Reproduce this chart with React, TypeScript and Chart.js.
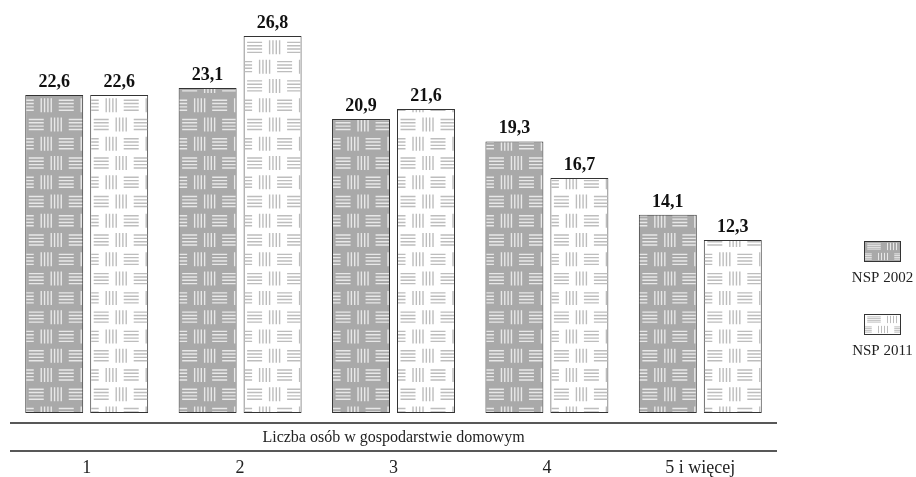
import React, { useEffect, useRef } from "react";
import { Chart, registerables } from "chart.js";

Chart.register(...registerables);

const categories = ["1", "2", "3", "4", "5 i więcej"];
const seriesNames = ["NSP 2002", "NSP 2011"];
const nsp2002 = [22.6, 23.1, 20.9, 19.3, 14.1];
const nsp2011 = [22.6, 26.8, 21.6, 16.7, 12.3];
const axisTitle = "Liczba osób w gospodarstwie domowym";

const SERIF = "'Liberation Serif', 'DejaVu Serif', serif";
const looks = [
  { bg: "#a9a9a9", line: "#e8e8e8" },
  { bg: "#ffffff", line: "#bdbdbd" },
];

function drawBasket(
  ctx: CanvasRenderingContext2D,
  left: number,
  top: number,
  right: number,
  bottom: number,
  anchorY: number,
  lineColor: string,
  sx: number,
  sy: number,
  lw: number
) {
  const P = 19.27 * sy;
  const W = 40 * sx;
  const offs = [-5, -5 / 3, 5 / 3, 5];
  ctx.save();
  ctx.beginPath();
  ctx.rect(left, top, right - left, bottom - top);
  ctx.clip();
  ctx.strokeStyle = lineColor;
  ctx.lineWidth = lw;
  ctx.beginPath();
  for (let k = 0; k < 200; k++) {
    const cy = anchorY - k * P;
    if (cy < top - P) break;
    const typeA = k % 2 === 0;
    const hOff = typeA ? 0 : 10 * sx;
    const vOff = typeA ? 20 * sx : 30 * sx;
    for (let m = -1; left + m * W - 10 * sx < right; m++) {
      const hx = left + hOff + m * W;
      for (const d of offs) {
        ctx.moveTo(hx - 7.5 * sx, cy + d * sy);
        ctx.lineTo(hx + 7.5 * sx, cy + d * sy);
      }
      const vx = left + vOff + m * W;
      for (const d of offs) {
        ctx.moveTo(vx + d * sx, cy - 7 * sy);
        ctx.lineTo(vx + d * sx, cy + 7 * sy);
      }
    }
  }
  ctx.stroke();
  ctx.restore();
}

const patternPlugin = {
  id: "basketPattern",
  afterDatasetDraw(chart: any, args: any) {
    const ctx: CanvasRenderingContext2D = chart.ctx;
    const meta = args.meta;
    const look = looks[args.index];
    meta.data.forEach((el: any) => {
      const p = el.getProps(["x", "y", "base", "width"], true);
      const left = p.x - p.width / 2;
      const right = p.x + p.width / 2;
      const top = Math.min(p.y, p.base);
      const bottom = Math.max(p.y, p.base);
      drawBasket(ctx, left + 1, top + 1, right - 1, bottom - 1, bottom + 0.5, look.line, 1, 1, 1.4);
    });
  },
};

const decorPlugin = {
  id: "decor",
  afterDraw(chart: any) {
    const ctx: CanvasRenderingContext2D = chart.ctx;
    const ca = chart.chartArea;
    ctx.save();
    // value labels
    ctx.fillStyle = "#111";
    ctx.font = `bold 18px ${SERIF}`;
    ctx.textAlign = "center";
    ctx.textBaseline = "alphabetic";
    chart.data.datasets.forEach((ds: any, i: number) => {
      const meta = chart.getDatasetMeta(i);
      meta.data.forEach((el: any, j: number) => {
        const p = el.getProps(["x", "y"], true);
        ctx.fillText(String(ds.data[j].toFixed(1)).replace(".", ","), p.x, p.y - 8);
      });
    });
    // axis lines and title
    ctx.strokeStyle = "#222";
    ctx.lineWidth = 1.5;
    const y1 = ca.bottom + 10;
    const y2 = ca.bottom + 38;
    ctx.beginPath();
    ctx.moveTo(ca.left, y1);
    ctx.lineTo(ca.right, y1);
    ctx.moveTo(ca.left, y2);
    ctx.lineTo(ca.right, y2);
    ctx.stroke();
    ctx.fillStyle = "#222";
    ctx.font = `16px ${SERIF}`;
    ctx.textBaseline = "middle";
    ctx.fillText(axisTitle, (ca.left + ca.right) / 2, (y1 + y2) / 2 + 1);
    // legend
    const sw = { x: 864, w: 37, h: 21 };
    const tops = [241, 314];
    seriesNames.forEach((name, i) => {
      const look = looks[i];
      ctx.fillStyle = look.bg;
      ctx.fillRect(sw.x, tops[i], sw.w, sw.h);
      drawBasket(ctx, sw.x + 1, tops[i] + 1, sw.x + sw.w - 1, tops[i] + sw.h - 1, tops[i] + 15.5, look.line, 0.9, 0.52, 1);
      ctx.strokeStyle = "#333";
      ctx.lineWidth = 1;
      ctx.strokeRect(sw.x + 0.5, tops[i] + 0.5, sw.w - 1, sw.h - 1);
      ctx.fillStyle = "#222";
      ctx.font = `15px ${SERIF}`;
      ctx.textAlign = "center";
      ctx.textBaseline = "middle";
      ctx.fillText(name, sw.x + sw.w / 2, tops[i] + 37);
    });
    ctx.restore();
  },
};

export default function App() {
  const ref = useRef<HTMLCanvasElement | null>(null);
  useEffect(() => {
    document.body.style.margin = "0";
    if (!ref.current) return;
    const chart = new Chart(ref.current, {
      type: "bar",
      data: {
        labels: categories,
        datasets: [
          {
            label: seriesNames[0],
            data: nsp2002,
            backgroundColor: looks[0].bg,
            borderColor: "#333",
            borderWidth: 1,
            borderSkipped: false,
            categoryPercentage: 0.847,
            barPercentage: 0.892,
          },
          {
            label: seriesNames[1],
            data: nsp2011,
            backgroundColor: looks[1].bg,
            borderColor: "#333",
            borderWidth: 1,
            borderSkipped: false,
            categoryPercentage: 0.847,
            barPercentage: 0.892,
          },
        ],
      },
      options: {
        animation: false,
        responsive: true,
        maintainAspectRatio: false,
        layout: { padding: { left: 10, right: 139, top: 5, bottom: 0 } },
        plugins: {
          legend: { display: false },
          tooltip: { enabled: false },
        },
        scales: {
          x: {
            grid: { display: false, drawTicks: false },
            border: { display: false },
            ticks: {
              padding: 44,
              color: "#222",
              font: { family: SERIF, size: 18 },
            },
            afterFit: (scale: any) => {
              scale.height = 64;
            },
          },
          y: {
            display: false,
            min: 0,
            max: 29,
          },
        },
      },
      plugins: [patternPlugin, decorPlugin],
    });
    return () => chart.destroy();
  }, []);
  return (
    <div style={{ position: "relative", width: 916, height: 477 }}>
      <canvas ref={ref} />
    </div>
  );
}
